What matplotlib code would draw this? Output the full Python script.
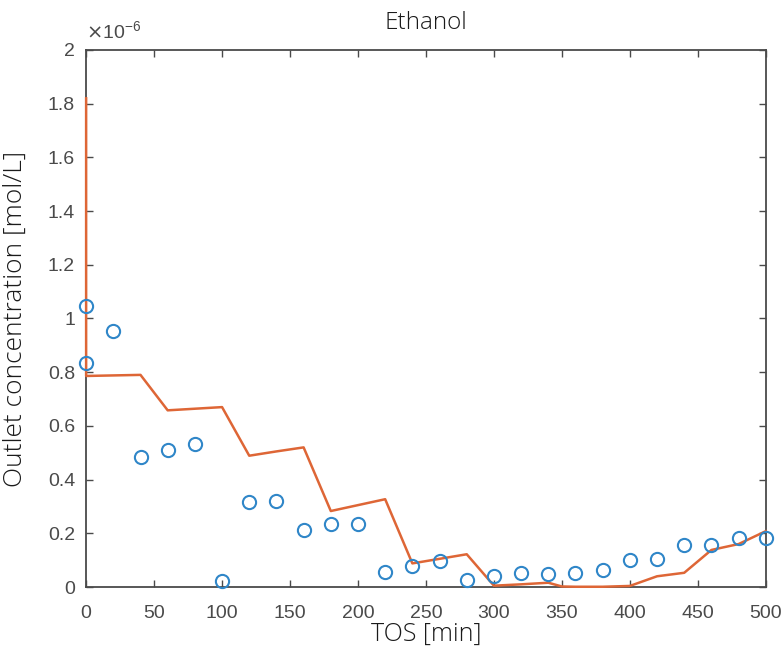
import numpy as np
import matplotlib
matplotlib.use("Agg")
import matplotlib.pyplot as plt
from matplotlib.ticker import FuncFormatter

# values in units of 1e-6 mol/L
tos_meas = [0, 0, 20, 40, 60, 80, 100, 120, 140, 160, 180, 200, 220, 240, 260,
            280, 300, 320, 340, 360, 380, 400, 420, 440, 460, 480, 500]
conc_meas = [1.045, 0.835, 0.953, 0.486, 0.512, 0.533, 0.022, 0.315, 0.322, 0.211,
             0.233, 0.233, 0.057, 0.080, 0.098, 0.027, 0.040, 0.053, 0.047, 0.053,
             0.065, 0.100, 0.104, 0.156, 0.157, 0.183, 0.183]

tos_model = [0, 0, 20, 40, 60, 80, 100, 120, 140, 160, 180, 200, 220, 240, 260,
             280, 300, 320, 340, 350, 360, 380, 400, 420, 440, 460, 480, 500]
conc_model = [1.82, 0.786, 0.788, 0.790, 0.658, 0.664, 0.670, 0.489, 0.505, 0.520,
              0.283, 0.305, 0.327, 0.088, 0.105, 0.122, 0.005, 0.010, 0.016, 0.002,
              0.001, 0.001, 0.004, 0.040, 0.053, 0.138, 0.160, 0.208]

xticks = np.arange(0, 501, 50)
yticks = np.arange(0, 2.01, 0.2)

label_font = ["Open Sans", "DejaVu Sans"]
tick_font = ["Liberation Sans", "DejaVu Sans"]
grey = "#4a4a4a"

fig = plt.figure(figsize=(7.83, 6.49), dpi=100)
ax = fig.add_axes([0.110, 0.0955, 0.868, 0.8275])

ax.plot(tos_model, conc_model, color="#DE6636", linewidth=1.8, zorder=4, clip_on=False)
ax.plot(tos_meas, conc_meas, linestyle="none", marker="o", markersize=9.5,
        markerfacecolor="none", markeredgecolor="#2F86C8", markeredgewidth=1.5,
        zorder=5, clip_on=False)

ax.set_xlim(0, 500)
ax.set_ylim(0, 2)
ax.set_xticks(xticks)
ax.set_yticks(yticks)
ax.yaxis.set_major_formatter(FuncFormatter(lambda v, p: f"{v:g}" if abs(v) > 1e-9 else "0"))

ax.tick_params(direction="in", top=True, right=True, length=5, width=1,
               colors=grey, labelsize=14, labelfontfamily="Liberation Sans")
ax.tick_params(axis="x", pad=13)
ax.tick_params(axis="y", pad=8)
for sp in ax.spines.values():
    sp.set_color(grey)
    sp.set_linewidth(1.3)

ax.text(0.0, 1.015, r"$\times\mathregular{10^{-6}}$", transform=ax.transAxes, fontsize=14,
        color=grey, ha="left", va="bottom", family=tick_font)

ax.set_title("Ethanol", fontsize=17.5, family=label_font, fontweight="light",
             color="#1a1a1a", pad=15)
ax.set_xlabel("TOS [min]", fontsize=18, family=label_font, fontweight="light",
              color="#1a1a1a", labelpad=0)
ax.set_ylabel("Outlet concentration [mol/L]", fontsize=19, family=label_font,
              fontweight="light", color="#1a1a1a", labelpad=14)

fig.savefig("out.png", dpi=100)
